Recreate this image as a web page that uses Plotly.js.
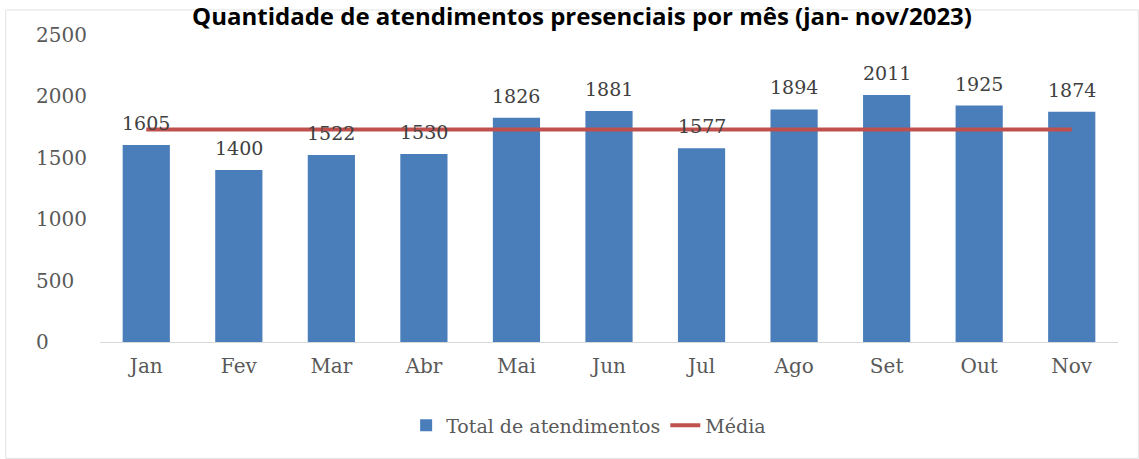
<!DOCTYPE html>
<html>
<head>
<meta charset="utf-8">
<script src="https://cdn.plot.ly/plotly-3.0.1.min.js"></script>
<style>
html,body{margin:0;padding:0;background:#fff;}
#chart{width:1139px;height:459px;}
</style>
</head>
<body>
<div id="chart"></div>
<script>
const months = ["Jan","Fev","Mar","Abr","Mai","Jun","Jul","Ago","Set","Out","Nov"];
const totals = [1605,1400,1522,1530,1826,1881,1577,1894,2011,1925,1874];
const mean = [1731,1731,1731,1731,1731,1731,1731,1731,1731,1731,1731];
const yTicks = [0,500,1000,1500,2000,2500];
const yTickText = ["0\u2007\u2007\u2007","500\u2007","1000","1500","2000","2500"];

const serif = "DejaVu Serif, Liberation Serif, serif";
const gray = "#595959";

const bars = {
  type: "bar", x: months, y: totals, name: "Total de atendimentos",
  marker: {color: "#4a7ebb"}, hoverinfo: "x+y"
};
const line = {
  type: "scatter", mode: "lines", x: months, y: mean, name: "Média",
  line: {color: "#c0504d", width: 4}
};

const annotations = months.map((m, i) => ({
  x: m, y: totals[i], xref: "x", yref: "y", text: String(totals[i]),
  showarrow: false, yanchor: "bottom", yshift: 9,
  font: {family: serif, size: 19, color: "#404040"}
}));

const layout = {
  width: 1139, height: 459,
  margin: {l: 100, r: 21, t: 35, b: 117},
  paper_bgcolor: "#ffffff", plot_bgcolor: "#ffffff",
  title: {
    text: "<b>Quantidade de atendimentos presenciais por mês (jan- nov/2023)</b>",
    font: {family: "Open Sans, Liberation Sans, sans-serif", size: 24, color: "#000000"},
    xref: "container", yref: "container", x: 0.511, y: 0.963, xanchor: "center", yanchor: "middle"
  },
  bargap: 0.49,
  xaxis: {
    type: "category", showgrid: false, showline: true, linecolor: "#d9d9d9", linewidth: 1,
    ticks: "", tickfont: {family: serif, size: 20, color: gray}, ticklabelstandoff: 6,
    fixedrange: true
  },
  yaxis: {
    range: [0, 2500], tickmode: "array", tickvals: yTicks, ticktext: yTickText,
    showgrid: false, zeroline: false, showline: false, ticks: "",
    tickfont: {family: serif, size: 20, color: gray}, ticklabelstandoff: 12,
    fixedrange: true
  },
  legend: {
    orientation: "h", x: 0.48, xanchor: "center", y: -0.272, yanchor: "middle",
    font: {family: serif, size: 19, color: gray}, traceorder: "normal"
  },
  annotations: annotations,
  shapes: [{
    type: "rect", xref: "paper", yref: "paper",
    x0: -0.0926, x1: 1.02, y0: -0.379, y1: 1.0815,
    line: {color: "#e3e3e3", width: 1}, fillcolor: "rgba(0,0,0,0)", layer: "below"
  }],
  showlegend: true
};

Plotly.newPlot("chart", [bars, line], layout, {displayModeBar: false, staticPlot: true});
</script>
</body>
</html>
